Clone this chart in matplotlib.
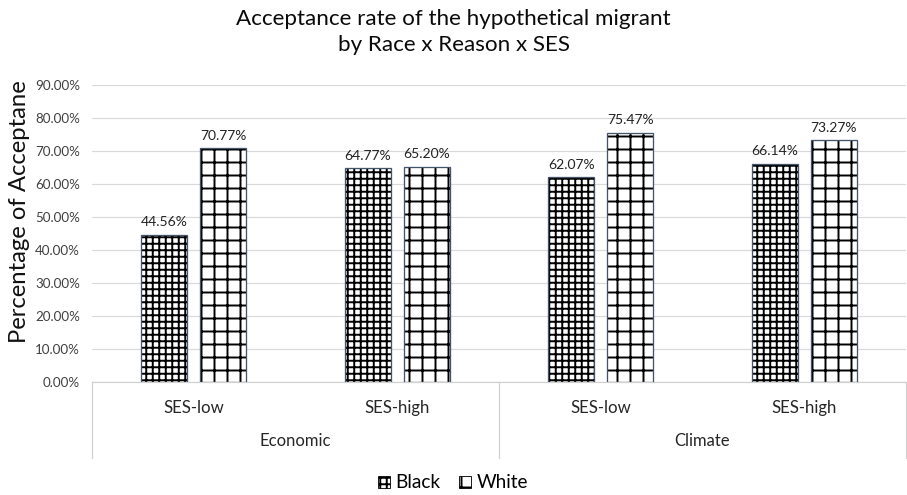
import matplotlib
matplotlib.use("Agg")
import matplotlib.pyplot as plt
from matplotlib.patches import Patch
from matplotlib.lines import Line2D
from matplotlib.ticker import FuncFormatter
import numpy as np

# Data
reasons = ["Economic", "Climate"]
ses_levels = ["SES-low", "SES-high"]
black_values = [44.56, 64.77, 62.07, 66.14]
white_values = [70.77, 65.20, 75.47, 73.27]
series_names = ["Black", "White"]
y_ticks = [0, 10, 20, 30, 40, 50, 60, 70, 80, 90]

DPI = 78
plt.rcParams["font.family"] = ["Lato", "DejaVu Sans"]
plt.rcParams["hatch.linewidth"] = 1.8

fig = plt.figure(figsize=(907 / DPI, 495 / DPI), dpi=DPI)
ax = fig.add_axes([92 / 907, 113 / 495, (906 - 92) / 907, 297 / 495])

n = len(black_values)
x = np.arange(n)
width = 0.225
offset = 0.145
edge = "#44546A"
hatches = ["++", "+"]

for vals, dx, h in [(black_values, -offset, hatches[0]), (white_values, offset, hatches[1])]:
    ax.bar(x + dx, vals, width, color="white", edgecolor="black", linewidth=0, hatch=h, zorder=2)
    ax.bar(x + dx, vals, width, fill=False, edgecolor=edge, linewidth=1.2, zorder=3)
    for xi, v in zip(x + dx, vals):
        ax.annotate(f"{v:.2f}%", (xi, v), xytext=(0, 6), textcoords="offset points",
                    ha="center", va="bottom", fontsize=12.8, color="#222222")

ax.set_xlim(-0.5, n - 0.5)
ax.set_ylim(0, 90)
ax.set_yticks(y_ticks)
ax.yaxis.set_major_formatter(FuncFormatter(lambda v, p: f"{v:.2f}%"))
ax.tick_params(axis="y", length=0, pad=11, labelsize=12.4, labelcolor="#404040")
ax.tick_params(axis="x", length=0, labelbottom=False)
ax.grid(axis="y", color="#d9d9d9", linewidth=1.1, zorder=0)
ax.set_axisbelow(True)
for s in ["left", "right", "top"]:
    ax.spines[s].set_visible(False)
ax.spines["bottom"].set_color("#d0d0d0")
ax.spines["bottom"].set_linewidth(1.1)

# Two-level category axis
trans = ax.get_xaxis_transform()
sub_y = -26 / 297
grp_y = -59 / 297
line_bot = -76 / 297
for i in range(n):
    ax.text(x[i], sub_y, ses_levels[i % 2], transform=trans, ha="center", va="center",
            fontsize=15.5, color="#262626")
for g, name in enumerate(reasons):
    ax.text(2 * g + 0.5, grp_y, name, transform=trans, ha="center", va="center",
            fontsize=15.3, color="#262626")
for xb in [-0.5, 1.5, 3.5]:
    ax.add_line(Line2D([xb, xb], [0, line_bot], transform=trans, color="#d0d0d0",
                       linewidth=1.1, clip_on=False))

fig.text(0.5, 1 - 9 / 495, "Acceptance rate of the hypothetical migrant\nby Race x Reason x SES",
         ha="center", va="top", fontsize=20.7, color="#0a0a0a", linespacing=1.35)
fig.text(20 / 907, 1 - 212 / 495, "Percentage of Acceptane", rotation=90,
         ha="center", va="center", fontsize=22, color="#111111")

handles = [Patch(facecolor="white", edgecolor="black", hatch=h, linewidth=0.8) for h in hatches]
fig.legend(handles, series_names, loc="center", bbox_to_anchor=(453 / 907, 1 - 483 / 495),
           ncol=2, frameon=False, fontsize=17.5, handlelength=0.6, handleheight=0.6,
           handletextpad=0.3, columnspacing=1.0)

fig.savefig("out.png", dpi=DPI)
